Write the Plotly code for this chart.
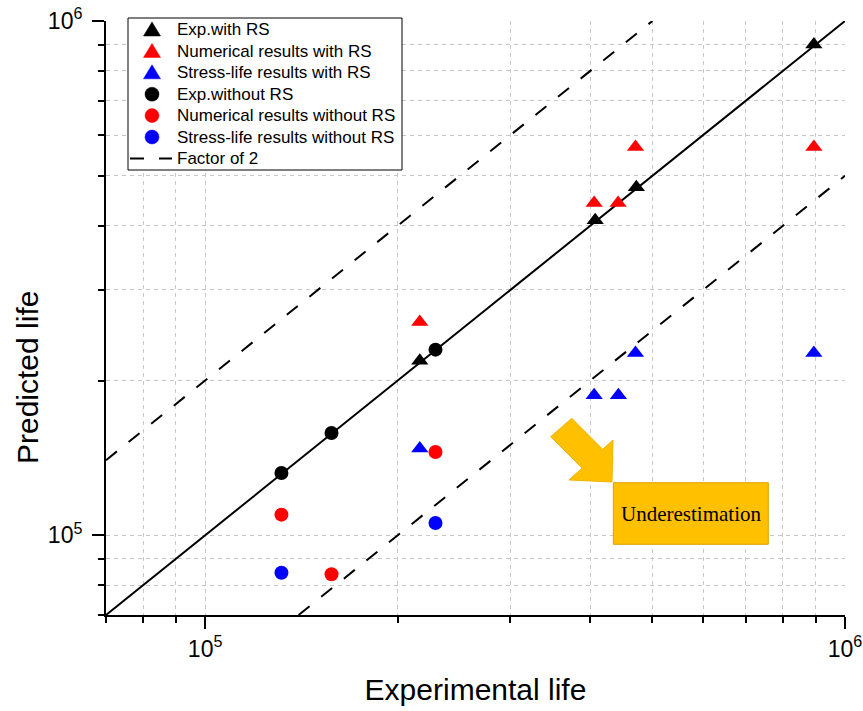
import math
import plotly.graph_objects as go

# ---------------- data ----------------
exp_rs_x = [216500, 407000, 472000, 894000]
exp_rs_y = [218500, 410000, 475000, 900000]

num_rs_x = [216500, 405500, 442000, 470500, 894000]
num_rs_y = [259800, 442600, 442600, 568900, 568900]

sl_rs_x = [216500, 405500, 442500, 470500, 894000]
sl_rs_y = [147500, 187200, 187200, 226200, 226200]

exp_nors_x = [131600, 157600, 229100]
exp_nors_y = [132200, 158100, 229600]

num_nors_x = [131600, 157600, 229100]
num_nors_y = [109700, 84000, 145200]

sl_nors_x = [131600, 229100]
sl_nors_y = [84600, 105700]

axis_min = 7e4
axis_max = 1e6
factor = 2

major_ticks = [1e5, 1e6]
major_labels = ["10<sup>5</sup>", "10<sup>6</sup>"]
minor_ticks = [7e4, 8e4, 9e4] + [k * 1e5 for k in range(2, 10)]

legend_labels = ["Exp.with RS", "Numerical results with RS", "Stress-life results with RS",
                 "Exp.without RS", "Numerical results without RS",
                 "Stress-life results without RS", "Factor of 2"]

# ---------------- figure ----------------
FONT = "Arial, Liberation Sans, sans-serif"
W, H = 863, 711
ML, MR, MT, MB = 106, 18, 21, 96
PW, PH = W - ML - MR, H - MT - MB


def px(x):  # pixel -> paper x
    return (x - ML) / PW


def py(y):  # pixel -> paper y
    return (H - MB - y) / PH


fig = go.Figure()

# 1:1 line
fig.add_trace(go.Scatter(x=[axis_min, axis_max], y=[axis_min, axis_max], mode="lines",
                         line=dict(color="black", width=2), showlegend=False, hoverinfo="skip"))

# factor-of-2 lines
fx = [axis_min, axis_max / factor, None, axis_min * factor, axis_max]
fy = [axis_min * factor, axis_max, None, axis_min, axis_max / factor]
DASH = "14px,15px"
fig.add_trace(go.Scatter(x=fx, y=fy, mode="lines", name="Factor of 2", connectgaps=False,
                         line=dict(color="black", width=2, dash=DASH), showlegend=False))

tri = dict(symbol="triangle-up", size=15)
cir = dict(symbol="circle", size=14)

series = [
    (exp_rs_x, exp_rs_y, "black", "tri"),
    (num_rs_x, num_rs_y, "#FF0000", "tri"),
    (sl_rs_x, sl_rs_y, "#0000FF", "tri"),
    (exp_nors_x, exp_nors_y, "black", "cir"),
    (num_nors_x, num_nors_y, "#FF0000", "cir"),
    (sl_nors_x, sl_nors_y, "#0000FF", "cir"),
]
for (xs, ys, col, kind), name in zip(series, legend_labels):
    mk = tri if kind == "tri" else cir
    fig.add_trace(go.Scatter(x=xs, y=ys, mode="markers", name=name,
                             marker=dict(color=col, **mk), showlegend=False))

# ---------- legend drawn with shapes + text (paper coordinates) ----------
bx0, bx1, by0, by1 = 128, 402, 18, 170
fig.add_shape(type="rect", xref="paper", yref="paper", layer="above",
              x0=px(bx0), x1=px(bx1), y0=py(by1), y1=py(by0),
              fillcolor="white", line=dict(color="black", width=1))
row_y = [30 + 21.4 * i for i in range(len(legend_labels))]
sym_x = 152
for i, (xs, ys, col, kind) in enumerate(series):
    cy = row_y[i]
    if kind == "tri":
        pts = [(sym_x - 8.5, cy + 6), (sym_x + 8.5, cy + 6), (sym_x, cy - 8)]
        path = "M " + " L ".join(f"{px(a):.5f},{py(b):.5f}" for a, b in pts) + " Z"
        fig.add_shape(type="path", path=path, xref="paper", yref="paper", layer="above",
                      fillcolor=col, line=dict(color=col, width=0.5))
    else:
        fig.add_shape(type="circle", xref="paper", yref="paper", layer="above",
                      x0=px(sym_x - 7), x1=px(sym_x + 7), y0=py(cy + 7), y1=py(cy - 7),
                      fillcolor=col, line=dict(color=col, width=0.5))
fig.add_shape(type="line", xref="paper", yref="paper", layer="above",
              x0=px(130), x1=px(172), y0=py(row_y[6]), y1=py(row_y[6]),
              line=dict(color="black", width=2, dash=DASH))
for i, lab in enumerate(legend_labels):
    fig.add_annotation(text=lab, xref="paper", yref="paper", x=px(175), y=py(row_y[i]),
                       xanchor="left", yanchor="middle", showarrow=False,
                       font=dict(family=FONT, size=17, color="black"))

axis_common = dict(
    type="log",
    range=[math.log10(axis_min), math.log10(axis_max)],
    automargin=False,
    showline=True, linecolor="black", linewidth=2, mirror=False,
    ticks="outside", ticklen=12, tickwidth=2, tickcolor="black",
    tickmode="array", tickvals=major_ticks, ticktext=major_labels,
    tickfont=dict(family=FONT, size=23, color="black"),
    showgrid=True, gridcolor="#C8C8C8", gridwidth=1, griddash="4px,4px",
    minor=dict(tickmode="array", tickvals=minor_ticks, ticks="outside", ticklen=6,
               tickwidth=1.5, tickcolor="black", showgrid=True,
               gridcolor="#C8C8C8", gridwidth=1, griddash="4px,4px"),
    zeroline=False,
)

fig.update_layout(
    width=W, height=H,
    margin=dict(l=ML, r=MR, t=MT, b=MB, autoexpand=False),
    paper_bgcolor="white", plot_bgcolor="white",
    font=dict(family=FONT, color="black"),
    showlegend=False,
    xaxis=dict(axis_common, title=dict(text="Experimental life",
                                       font=dict(family=FONT, size=30, color="black"), standoff=18)),
    yaxis=dict(axis_common, ticklabelstandoff=5),
)

# y-axis title (placed as in the reference, below the axis centre)
fig.add_annotation(text="Predicted life", xref="paper", yref="paper", x=px(27), y=py(378),
                   xanchor="center", yanchor="middle", textangle=-90, showarrow=False,
                   font=dict(family=FONT, size=30, color="black"))

# Underestimation arrow and box (paper coordinates)
arrow_px = [(571.7, 418.3), (602.7, 449.3), (613, 440), (612, 482),
            (569, 480), (582.1, 468.1), (550.7, 436.7)]
path = "M " + " L ".join(f"{px(x):.4f},{py(y):.4f}" for x, y in arrow_px) + " Z"
fig.add_shape(type="path", path=path, xref="paper", yref="paper",
              fillcolor="#FFC000", line=dict(color="#F2B400", width=1))
fig.add_shape(type="rect", xref="paper", yref="paper", x0=px(613.3), x1=px(768.3),
              y0=py(544.3), y1=py(482.7),
              fillcolor="#FFC000", line=dict(color="#D9A400", width=1))
fig.add_annotation(text="Underestimation", xref="paper", yref="paper",
                   x=px(690.8), y=py(513.5), xanchor="center", yanchor="middle", showarrow=False,
                   font=dict(family="Times New Roman, Liberation Serif, serif", size=21, color="black"))

fig.write_html("out.html")
